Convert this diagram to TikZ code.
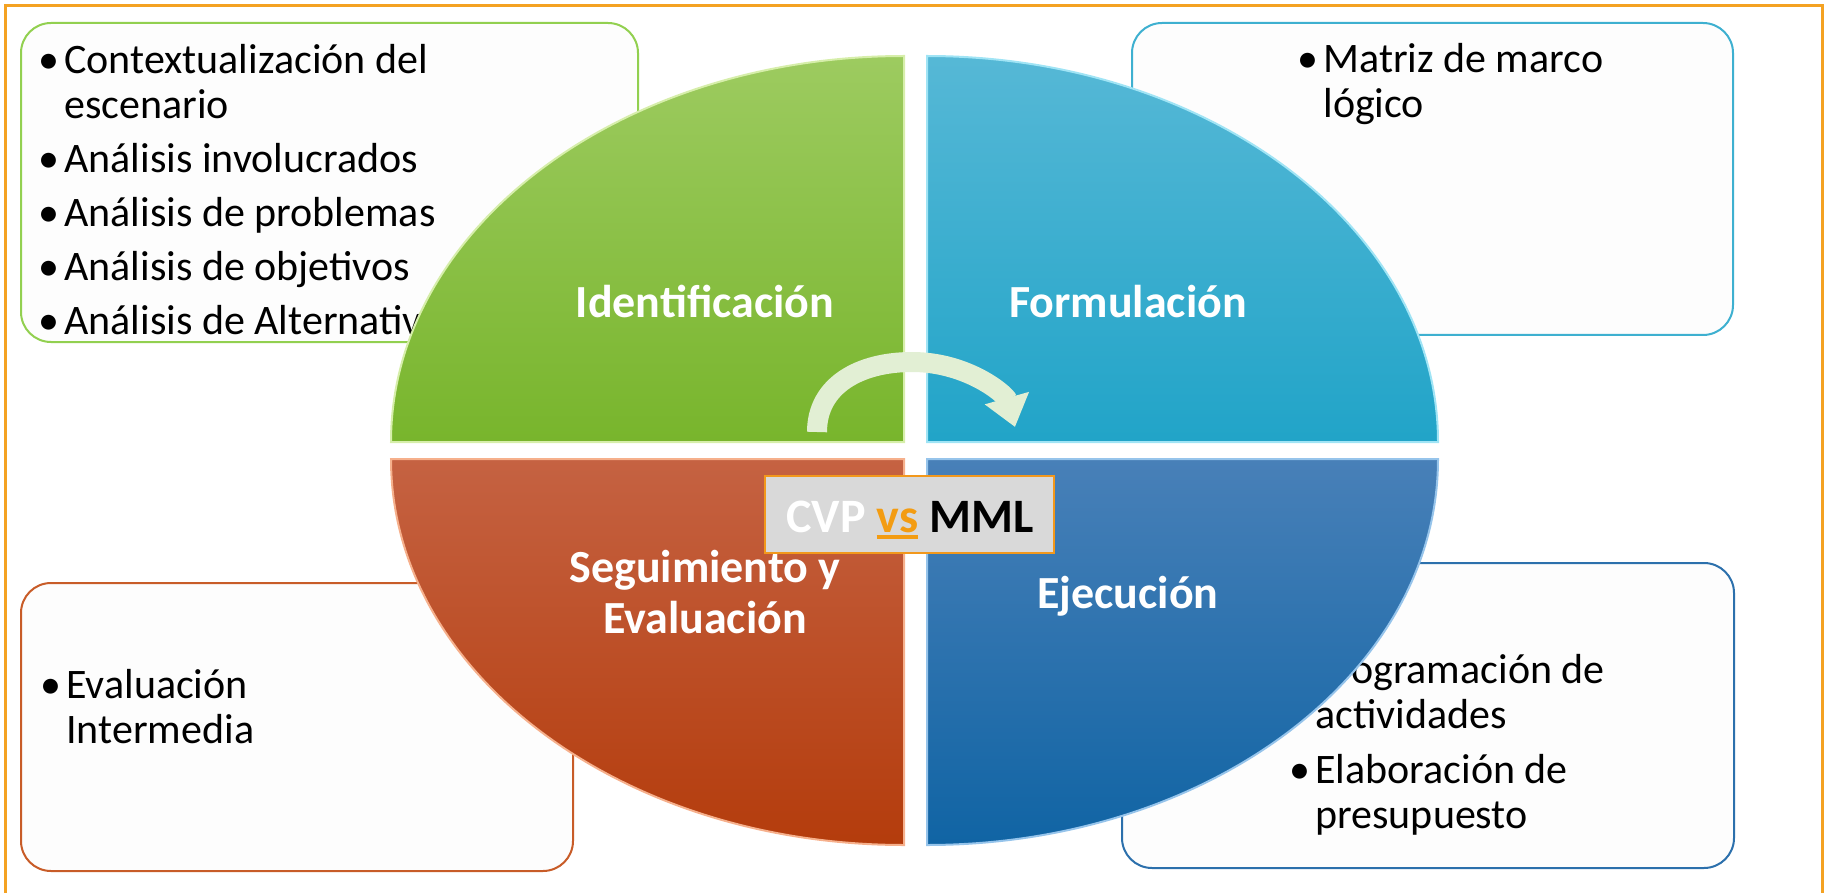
\documentclass[tikz,border=0pt]{standalone}
\usepackage{fontspec}
\setmainfont{Carlito}
\usetikzlibrary{arrows.meta}
\newcommand{\punto}{\par\hangindent=13pt\hangafter=1\noindent\makebox[13pt][l]{\textbullet}}
\newcommand{\subrayado}[1]{\setbox0\hbox{#1}\rlap{\rule[-3.5pt]{\wd0}{2pt}}\box0}

\begin{document}
\begin{tikzpicture}[x=0.5pt,y=0.5pt,yscale=-1,
  cajon/.style={line width=1pt, rounded corners=15pt, fill={rgb, 255:red, 253; green, 253; blue, 253 }},
  lista/.style={anchor=base west, inner sep=0pt, font=\fontsize{21pt}{22.5pt}\selectfont},
  etiqueta/.style={anchor=base, inner sep=0pt, text=white, font=\bfseries\fontsize{23pt}{25.5pt}\selectfont}]
\useasboundingbox (0,0) rectangle (1826,893);

%Straight Lines: frame
\draw [color={rgb, 255:red, 244; green, 162; blue, 34 }, line width=1.5pt]   (5,893) -- (5,6) -- (1822,6) -- (1822,893) ;

%Shape: Rounded Rect
\draw [cajon, draw={rgb, 255:red, 146; green, 208; blue, 80 }]   (21,23) rectangle (638,342) ;
%Shape: Rounded Rect
\draw [cajon, draw={rgb, 255:red, 62; green, 176; blue, 208 }]   (1132,23) rectangle (1733,335) ;
%Shape: Rounded Rect
\draw [cajon, draw={rgb, 255:red, 200; green, 92; blue, 40 }]   (21,583) rectangle (573,871) ;
%Shape: Rounded Rect
\draw [cajon, draw={rgb, 255:red, 44; green, 112; blue, 172 }]   (1122,563) rectangle (1734,868) ;

% Text Node
\node [lista] (listaIdent) at (38,74) {\parbox[t]{330pt}{\raggedright\setlength{\parskip}{4.5pt}%
  \punto Contextualización del\newline escenario
  \punto Análisis involucrados
  \punto Análisis de problemas
  \punto Análisis de objetivos
  \punto Análisis de Alternativas}};
% Text Node
\node [lista] (listaForm) at (1297,73) {\parbox[t]{250pt}{\raggedright\setlength{\parskip}{4.5pt}%
  \punto Matriz de marco\newline lógico}};
% Text Node
\node [lista] (listaSeg) at (40,698) {\parbox[t]{250pt}{\raggedright\setlength{\parskip}{4.5pt}%
  \punto Evaluación\newline Intermedia}};
% Text Node
\node [lista] (listaEjec) at (1289,683) {\parbox[t]{250pt}{\raggedright\setlength{\parskip}{5pt}%
  \punto Programación de\newline actividades
  \punto Elaboración de\newline presupuesto}};

%Shape: Quarter Ellipse
\shade [top color={rgb, 255:red, 157; green, 203; blue, 96 }, bottom color={rgb, 255:red, 120; green, 181; blue, 44 }]   (904,442) -- (391,442) arc [start angle=180, end angle=270, x radius=513, y radius=386] -- cycle ;
\draw [color={rgb, 255:red, 214; green, 238; blue, 170 }, line width=1pt]   (904,442) -- (391,442) arc [start angle=180, end angle=270, x radius=513, y radius=386] -- cycle ;
%Shape: Quarter Ellipse
\shade [top color={rgb, 255:red, 86; green, 184; blue, 214 }, bottom color={rgb, 255:red, 33; green, 164; blue, 200 }]   (927,442) -- (1438,442) arc [start angle=360, end angle=270, x radius=511, y radius=386] -- cycle ;
\draw [color={rgb, 255:red, 160; green, 228; blue, 245 }, line width=1pt]   (927,442) -- (1438,442) arc [start angle=360, end angle=270, x radius=511, y radius=386] -- cycle ;
%Shape: Quarter Ellipse
\shade [top color={rgb, 255:red, 197; green, 98; blue, 66 }, bottom color={rgb, 255:red, 180; green, 60; blue, 12 }]   (904,459) -- (391,459) arc [start angle=180, end angle=90, x radius=513, y radius=386] -- cycle ;
\draw [color={rgb, 255:red, 246; green, 176; blue, 140 }, line width=1pt]   (904,459) -- (391,459) arc [start angle=180, end angle=90, x radius=513, y radius=386] -- cycle ;
%Shape: Quarter Ellipse
\shade [top color={rgb, 255:red, 72; green, 128; blue, 184 }, bottom color={rgb, 255:red, 16; green, 100; blue, 164 }]   (927,459) -- (1438,459) arc [start angle=0, end angle=90, x radius=511, y radius=386] -- cycle ;
\draw [color={rgb, 255:red, 150; green, 196; blue, 235 }, line width=1pt]   (927,459) -- (1438,459) arc [start angle=0, end angle=90, x radius=511, y radius=386] -- cycle ;

% Text Node
\node [etiqueta] (identificacion) at (705,318) {Identificación};
% Text Node
\node [etiqueta] (formulacion) at (1128,318) {Formulación};
% Text Node
\node [etiqueta] (seguimiento) at (705,582) {\begin{tabular}[t]{@{}c@{}}Seguimiento y\\Evaluación\end{tabular}};
% Text Node
\node [etiqueta] (ejecucion) at (1128,608) {Ejecución};

%Curve Lines: arrow
\draw [color={rgb, 255:red, 226; green, 239; blue, 212 }, line width=10pt, -{Triangle[length=15pt, width=22pt]}]   (817,432) .. controls (817,385) and (860,362) .. (912,362) .. controls (968,362) and (1006,395) .. (1015,427) ;

%Shape: Rectangle
\draw [color={rgb, 255:red, 242; green, 152; blue, 28 }, fill={rgb, 255:red, 217; green, 217; blue, 217 }, line width=1pt]   (765,476) rectangle (1054,553) ;
% Text Node
\node [anchor=base, inner sep=0pt, font=\bfseries\fontsize{24pt}{28pt}\selectfont] (cvpmml) at (910,532) {\textcolor{white}{CVP} \textcolor[RGB]{243,156,18}{\subrayado{vs}} MML};

\end{tikzpicture}
\end{document}
